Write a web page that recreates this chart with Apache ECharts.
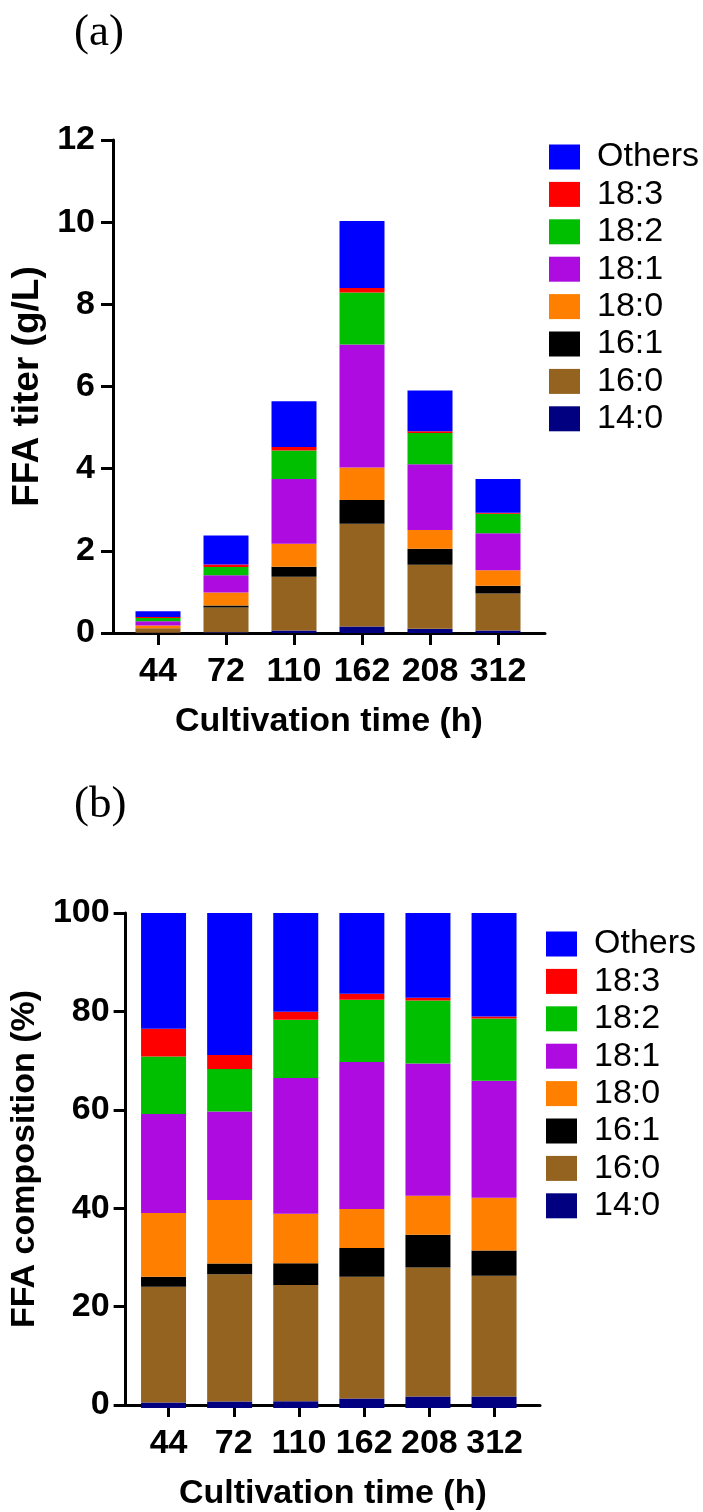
<!DOCTYPE html>
<html>
<head>
<meta charset="utf-8">
<script src="https://cdn.jsdelivr.net/npm/echarts@6/dist/echarts.min.js"></script>
<style>
html,body{margin:0;padding:0;background:#fff;}
#chart{width:703px;height:1512px;}
</style>
</head>
<body>
<div id="chart"></div>
<script>
// Categories (cultivation time, h)
const categories = ['44', '72', '110', '162', '208', '312'];
const seriesNames = ['14:0', '16:0', '16:1', '18:0', '18:1', '18:2', '18:3', 'Others'];
const legendOrder = ['Others', '18:3', '18:2', '18:1', '18:0', '16:1', '16:0', '14:0'];
const colors = ['#000080', '#946320', '#000000', '#FF8000', '#AD0BE0', '#00BF00', '#FF0000', '#0000FF'];

// Panel (a): FFA titer (g/L)
const titer_14_0 = [0.005, 0.02, 0.06, 0.16, 0.105, 0.06];
const titer_16_0 = [0.09, 0.60, 1.31, 2.50, 1.555, 0.90];
const titer_16_1 = [0.015, 0.05, 0.24, 0.58, 0.39, 0.19];
const titer_18_0 = [0.07, 0.315, 0.56, 0.79, 0.46, 0.38];
const titer_18_1 = [0.105, 0.42, 1.58, 2.99, 1.60, 0.90];
const titer_18_2 = [0.08, 0.20, 0.69, 1.27, 0.76, 0.47];
const titer_18_3 = [0.025, 0.06, 0.09, 0.11, 0.04, 0.03];
const titer_others = [0.14, 0.71, 1.11, 1.63, 0.99, 0.82];

// Panel (b): FFA composition (%)
const comp_14_0 = [1.1, 1.3, 1.35, 1.9, 2.3, 2.3];
const comp_16_0 = [23.4, 25.7, 23.5, 24.6, 26.1, 24.4];
const comp_16_1 = [2.0, 2.2, 4.4, 5.8, 6.6, 5.1];
const comp_18_0 = [12.9, 12.8, 10.0, 7.9, 7.9, 10.7];
const comp_18_1 = [20.0, 17.9, 27.4, 29.7, 26.7, 23.6];
const comp_18_2 = [11.6, 8.6, 11.8, 12.6, 12.7, 12.6];
const comp_18_3 = [5.6, 2.8, 1.6, 1.2, 0.6, 0.4];
const comp_others = [23.4, 28.7, 20.1, 16.3, 17.1, 20.9];

// Axis ticks
const yTicksA = [0, 2, 4, 6, 8, 10, 12];
const yTicksB = [0, 20, 40, 60, 80, 100];

const titerData = [titer_14_0, titer_16_0, titer_16_1, titer_18_0, titer_18_1, titer_18_2, titer_18_3, titer_others];
const compData = [comp_14_0, comp_16_0, comp_16_1, comp_18_0, comp_18_1, comp_18_2, comp_18_3, comp_others];

const FONT = 'Liberation Sans';
const catPositions = categories.map((c, i) => i + 1);

// Visible x axis (value scale mapped so category i sits at i+1) for axis line, ticks and labels
function xAxisVisible(gridIndex, min, max) {
  return {
    type: 'value', gridIndex: gridIndex, min: min, max: max,
    name: 'Cultivation time (h)', nameLocation: 'middle', nameGap: 72,
    nameTextStyle: {fontFamily: FONT, fontSize: 34, fontWeight: 'bold', color: '#000'},
    axisLine: {show: true, onZero: false, lineStyle: {color: '#000', width: 3}},
    axisTick: {show: true, length: 12, lineStyle: {color: '#000', width: 3}, customValues: catPositions},
    axisLabel: {show: true, margin: 22, fontFamily: FONT, fontSize: 34, fontWeight: 'bold', color: '#000',
      customValues: catPositions,
      formatter: v => categories[Math.round(v) - 1] || ''},
    splitLine: {show: false}
  };
}
// Hidden category axis that carries the bars
function xAxisBars(gridIndex) {
  return {
    type: 'category', gridIndex: gridIndex, data: categories, boundaryGap: true,
    axisLine: {show: false}, axisTick: {show: false}, axisLabel: {show: false}, splitLine: {show: false}
  };
}
function yAxisVisible(gridIndex, name, ticks, nameGap, nameSize, labelMargin) {
  return {
    type: 'value', gridIndex: gridIndex, min: ticks[0], max: ticks[ticks.length - 1],
    interval: ticks[1] - ticks[0],
    name: name, nameLocation: 'middle', nameGap: nameGap, nameRotate: 90,
    nameTextStyle: {fontFamily: FONT, fontSize: nameSize, fontWeight: 'bold', color: '#000'},
    axisLine: {show: true, onZero: false, lineStyle: {color: '#000', width: 3}},
    axisTick: {show: true, length: 12, lineStyle: {color: '#000', width: 3}},
    axisLabel: {margin: labelMargin, fontFamily: FONT, fontSize: 34, fontWeight: 'bold', color: '#000'},
    splitLine: {show: false}
  };
}
function yAxisHidden(gridIndex, ticks) {
  return {
    type: 'value', gridIndex: gridIndex, min: ticks[0], max: ticks[ticks.length - 1],
    interval: ticks[1] - ticks[0],
    axisLine: {show: false}, axisTick: {show: false}, axisLabel: {show: false}, splitLine: {show: false}
  };
}
function legendDef(left, top) {
  return {
    orient: 'vertical', left: left, top: top, padding: 0, data: legendOrder,
    icon: 'rect', itemWidth: 31, itemHeight: 25, itemGap: 3.4,
    textStyle: {fontFamily: FONT, fontSize: 34, color: '#000', padding: [0, 0, 0, 12]},
    selectedMode: false
  };
}

const series = [];
seriesNames.forEach((name, k) => {
  series.push({
    name: name, type: 'bar', xAxisIndex: 2, yAxisIndex: 2, stack: 'titer',
    barWidth: 45, itemStyle: {color: colors[k]},
    data: titerData[k]
  });
});
seriesNames.forEach((name, k) => {
  series.push({
    name: name, type: 'bar', xAxisIndex: 3, yAxisIndex: 3, stack: 'comp',
    barWidth: 45, itemStyle: {color: colors[k]},
    data: compData[k]
  });
});

const chart = echarts.init(document.getElementById('chart'), null, {renderer: 'canvas'});
chart.setOption({
  animation: false,
  backgroundColor: '#fff',
  title: [
    {text: '(a)', left: 69, top: 6, textStyle: {fontFamily: 'Liberation Serif', fontSize: 45, fontWeight: 'normal', color: '#000'}},
    {text: '(b)', left: 69, top: 778, textStyle: {fontFamily: 'Liberation Serif', fontSize: 45, fontWeight: 'normal', color: '#000'}}
  ],
  legend: [legendDef(549, 140), legendDef(546, 927)],
  grid: [
    {left: 113, top: 140, width: 432, height: 493},
    {left: 120, top: 913, width: 420, height: 495},
    {left: 124, top: 140, width: 408, height: 493},
    {left: 130.5, top: 913, width: 396.6, height: 495}
  ],
  xAxis: [xAxisVisible(0, 0.338, 6.691), xAxisVisible(1, 0.342, 6.696), xAxisBars(2), xAxisBars(3)],
  yAxis: [yAxisVisible(0, 'FFA titer (g/L)', yTicksA, 60, 37, 18), yAxisVisible(1, 'FFA composition (%)', yTicksB, 70, 34, 16),
          yAxisHidden(2, yTicksA), yAxisHidden(3, yTicksB)],
  series: series
});
</script>
</body>
</html>
